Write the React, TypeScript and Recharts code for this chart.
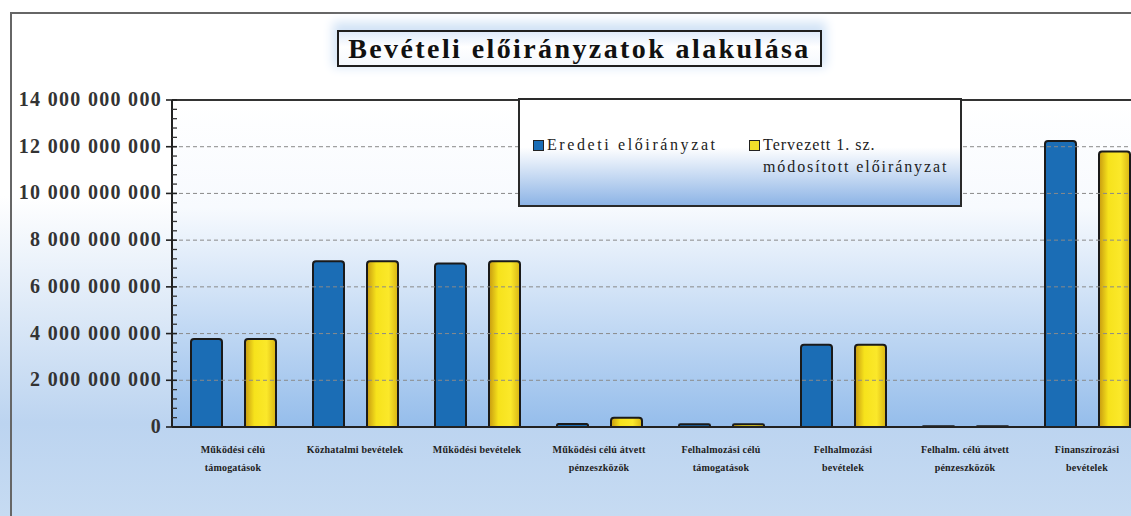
import React from 'react';
import {
  BarChart,
  Bar,
  XAxis,
  YAxis,
  CartesianGrid,
  ReferenceLine,
} from 'recharts';

const categories = [
  ['Működési célú', 'támogatások'],
  ['Közhatalmi bevételek'],
  ['Működési bevételek'],
  ['Működési célú átvett', 'pénzeszközök'],
  ['Felhalmozási célú', 'támogatások'],
  ['Felhalmozási', 'bevételek'],
  ['Felhalm. célú átvett', 'pénzeszközök'],
  ['Finanszírozási', 'bevételek'],
];

const eredeti = [3770000000, 7100000000, 7000000000, 130000000, 120000000, 3520000000, 30000000, 12250000000];
const tervezett = [3770000000, 7100000000, 7100000000, 400000000, 120000000, 3520000000, 30000000, 11800000000];

const majorTicks = [0, 2000000000, 4000000000, 6000000000, 8000000000, 10000000000, 12000000000, 14000000000];
const minorStep = 400000000;
const yMax = 14000000000;
const allTicks = Array.from({ length: yMax / minorStep + 1 }, (_, i) => i * minorStep);

const data = categories.map((c, i) => ({
  name: c.join('|'),
  eredeti: eredeti[i],
  tervezett: tervezett[i],
}));

const serif = '"Liberation Serif", "DejaVu Serif", serif';

const fmt = (v: number) => String(v).replace(/\B(?=(\d{3})+(?!\d))/g, ' ');

// one axis, labels only on the major values, short marks on the minor ones
const ValueTick = (props: any) => {
  const { x, y, payload } = props;
  const v = payload.value;
  const major = majorTicks.includes(v);
  if (!major) {
    return <line x1={x} x2={x + 5} y1={y} y2={y} stroke="#333" strokeWidth={1.3} />;
  }
  return (
    <g>
      <line x1={x - 6} x2={x + 5} y1={y} y2={y} stroke="#222" strokeWidth={1.6} />
      <text
        x={x - 10}
        y={y}
        dy={6}
        textAnchor="end"
        fontFamily={serif}
        fontWeight="bold"
        fontSize={20}
        letterSpacing={1.3}
        fill="#333"
      >
        {fmt(v)}
      </text>
    </g>
  );
};

const CatTick = (props: any) => {
  const { x, y, payload } = props;
  const lines = String(payload.value).split('|');
  return (
    <g transform={`translate(${x},${y})`}>
      {lines.map((l, i) => (
        <text
          key={i}
          x={0}
          y={18 + i * 18}
          textAnchor="middle"
          fontFamily={serif}
          fontWeight="bold"
          fontSize={10}
          letterSpacing={0.2}
          fill="#222"
        >
          {l}
        </text>
      ))}
    </g>
  );
};

const LegendBox = () => (
  <div
    style={{
      position: 'absolute',
      left: 518,
      top: 98,
      width: 440,
      height: 105,
      border: '2px solid #2a2a2a',
      background: 'linear-gradient(to bottom, #ffffff 0%, #ffffff 45%, #8db4e6 100%)',
      fontFamily: serif,
      fontSize: 16,
      color: '#222',
      whiteSpace: 'nowrap',
    }}
  >
    <div style={{ position: 'absolute', left: 13, top: 36, display: 'flex', alignItems: 'center', letterSpacing: 2.6 }}>
      <span style={{ width: 9, height: 9, background: '#1b6db5', border: '1px solid #222', marginRight: 3 }} />
      Eredeti előirányzat
    </div>
    <div style={{ position: 'absolute', left: 229, top: 36, display: 'flex', alignItems: 'center', letterSpacing: 1.0 }}>
      <span style={{ width: 9, height: 9, background: '#f2df2a', border: '1px solid #222', marginRight: 3 }} />
      Tervezett 1. sz.
    </div>
    <div style={{ position: 'absolute', left: 243, top: 58, letterSpacing: 1.9 }}>módosított előirányzat</div>
  </div>
);

export default function App() {
  return (
    <div
      style={{
        position: 'absolute',
        left: 0,
        top: 0,
        width: 1131,
        height: 516,
        overflow: 'hidden',
        background: 'linear-gradient(to bottom, #ffffff 0%, #ffffff 38%, #bcd4f0 82%, #c6dbf2 100%)',
      }}
    >
      <div
        style={{
          position: 'absolute',
          left: 10,
          top: 12,
          width: 1200,
          height: 600,
          borderLeft: '2px solid #666',
          borderTop: '2px solid #666',
        }}
      />
      <div style={{ position: 'absolute', left: 0, top: 0 }}>
        <BarChart
          width={1160}
          height={516}
          data={data}
          margin={{ top: 100, right: 12, left: 12, bottom: 29 }}
          barGap={23}
          barCategoryGap={19}
        >
          <defs>
            <linearGradient id="plotBg" x1="0" y1="0" x2="0" y2="1">
              <stop offset="0%" stopColor="#ffffff" />
              <stop offset="33%" stopColor="#f7fafe" />
              <stop offset="100%" stopColor="#95bdeb" />
            </linearGradient>
            <linearGradient id="yellowBar" x1="0" y1="0" x2="1" y2="0">
              <stop offset="0%" stopColor="#c79a10" />
              <stop offset="30%" stopColor="#f6e21c" />
              <stop offset="70%" stopColor="#fbe82a" />
              <stop offset="100%" stopColor="#d8b414" />
            </linearGradient>
          </defs>
          <CartesianGrid horizontal={false} vertical={false} fill="url(#plotBg)" />
          <YAxis
            domain={[0, yMax]}
            ticks={allTicks}
            interval={0}
            width={160}
            tickSize={0}
            tickMargin={0}
            tickLine={false}
            axisLine={{ stroke: '#222', strokeWidth: 2 }}
            tick={<ValueTick />}
          />
          <XAxis
            dataKey="name"
            interval={0}
            height={60}
            tick={<CatTick />}
            tickLine={false}
            axisLine={{ stroke: '#222', strokeWidth: 2 }}
          />
          {majorTicks.slice(1, -1).map((t) => (
            <ReferenceLine key={t} y={t} stroke="#8a8a8a" strokeDasharray="4 3" />
          ))}
          <ReferenceLine y={yMax} stroke="#333" strokeWidth={2} />
          <Bar
            dataKey="eredeti"
            fill="#1b6db5"
            stroke="#1a1a1a"
            strokeWidth={2}
            radius={[3, 3, 0, 0]}
            isAnimationActive={false}
          />
          <Bar
            dataKey="tervezett"
            fill="url(#yellowBar)"
            stroke="#1a1a1a"
            strokeWidth={2}
            radius={[3, 3, 0, 0]}
            isAnimationActive={false}
          />
        </BarChart>
      </div>
      <LegendBox />
      <div
        style={{
          position: 'absolute',
          left: 337,
          top: 30,
          width: 481,
          height: 33,
          border: '2px solid #1e1e1e',
          boxShadow: '0 -4px 10px 4px #d2e3f6',
          background: 'linear-gradient(to bottom, #dfeafa 0%, #ffffff 45%, #f4f8fd 100%)',
          fontFamily: serif,
          fontWeight: 'bold',
          fontSize: 28,
          lineHeight: '33px',
          textAlign: 'center',
          color: '#111',
          letterSpacing: 2.4,
          whiteSpace: 'nowrap',
        }}
      >
        Bevételi előirányzatok alakulása
      </div>
    </div>
  );
}
